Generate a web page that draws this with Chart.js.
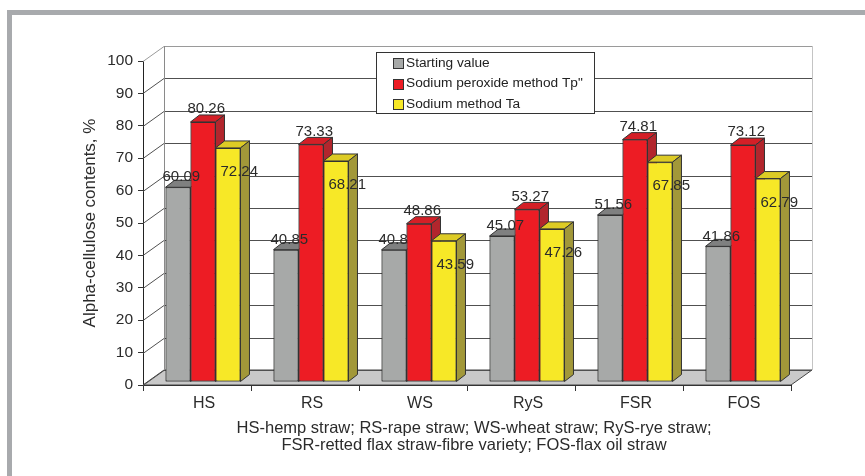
<!DOCTYPE html>
<html>
<head>
<meta charset="utf-8">
<script src="https://cdn.jsdelivr.net/npm/chart.js@4/dist/chart.umd.min.js"></script>
<style>
  body { margin: 0; background: #fff; width: 865px; height: 476px; overflow: hidden; position: relative; }
  #frame { position: absolute; left: 7px; top: 10px; width: 900px; height: 500px;
           border-top: 5px solid #a8aaad; border-left: 5px solid #a8aaad; }
  #myChart { position: absolute; left: 0; top: 0; }
</style>
</head>
<body>
<div id="frame"></div>
<canvas id="myChart" width="865" height="476"></canvas>
<script>
const categories = ['HS', 'RS', 'WS', 'RyS', 'FSR', 'FOS'];
const seriesNames = ['Starting value', 'Sodium peroxide method Tp"', 'Sodium method Ta'];
const startingValue = [60.09, 40.85, 40.8, 45.07, 51.56, 41.86];
const peroxideMethod = [80.26, 73.33, 48.86, 53.27, 74.81, 73.12];
const sodiumMethod = [72.24, 68.21, 43.59, 47.26, 67.85, 62.79];
const yTicks = [0, 10, 20, 30, 40, 50, 60, 70, 80, 90, 100];
const yTitle = 'Alpha-cellulose contents, %';
const footnote = [
    'HS-hemp straw; RS-rape straw; WS-wheat straw; RyS-rye straw;',
    'FSR-retted flax straw-fibre variety; FOS-flax oil straw'
];

Chart.defaults.font.family = "'Liberation Sans', Arial, sans-serif";
Chart.defaults.color = '#2b2b2b';

// colours: front, top, side
const faces = [
    ['#a7a9a8', '#7f8080', '#707171'],
    ['#ed1c24', '#d41f27', '#b2262d'],
    ['#f7e827', '#ddcb25', '#a29839']
];
// label offsets from the front top-left corner of each bar
const labelOff = [{ x: -3, y: -10 }, { x: -3, y: -13 }, { x: 5, y: 24 }];

const wall = { dx: 21, dy: 15 };    // depth of floor / back wall
const shift = { x: 6, y: -3 };      // bars sit a bit inside the box
const bar3d = { dx: 9, dy: 7 };     // depth of each bar

function line(ctx, pts) {
    ctx.beginPath();
    ctx.moveTo(pts[0][0], pts[0][1]);
    for (let i = 1; i < pts.length; i++) ctx.lineTo(pts[i][0], pts[i][1]);
    ctx.stroke();
}
function poly(ctx, pts, fill) {
    ctx.beginPath();
    ctx.moveTo(pts[0][0], pts[0][1]);
    for (let i = 1; i < pts.length; i++) ctx.lineTo(pts[i][0], pts[i][1]);
    ctx.closePath();
    ctx.fillStyle = fill;
    ctx.fill();
    ctx.stroke();
}

const box3d = {
    id: 'box3d',
    beforeDatasetsDraw(chart) {
        const ctx = chart.ctx;
        const a = chart.chartArea;
        const y = chart.scales.y;
        const dx = wall.dx, dy = wall.dy;
        ctx.save();
        ctx.lineWidth = 1;
        // floor
        ctx.strokeStyle = '#444';
        poly(ctx, [[a.left, a.bottom], [a.right, a.bottom], [a.right + dx, a.bottom - dy], [a.left + dx, a.bottom - dy]], '#c9c9c9');
        // right edge of back wall
        ctx.strokeStyle = '#c4c4c4';
        line(ctx, [[a.right + dx + 0.5, a.top - dy], [a.right + dx + 0.5, a.bottom - dy]]);
        // grid: diagonal on the side wall, then across the back wall
        yTicks.forEach(v => {
            const py = Math.round(y.getPixelForValue(v)) + 0.5;
            ctx.strokeStyle = v === 100 ? '#9a9a9a' : '#505050';
            line(ctx, [[a.left, py], [a.left + dx, py - dy], [a.right + dx, py - dy]]);
        });
        ctx.strokeStyle = '#8a8a8a';
        line(ctx, [[a.left + dx + 0.5, a.top - dy], [a.left + dx + 0.5, a.bottom - dy]]);
        ctx.restore();

        ctx.save();
        ctx.translate(shift.x, shift.y);
    },
    afterDatasetsDraw(chart) {
        const ctx = chart.ctx;
        // redraw the bars series by series so each one covers the side of the previous one
        ctx.save();
        ctx.lineWidth = 1;
        chart.data.datasets.forEach((ds, i) => {
            const c = faces[i];
            chart.getDatasetMeta(i).data.forEach(el => {
                el.draw(ctx);
                const l = el.x - el.width / 2, r = el.x + el.width / 2;
                const t = el.y, b = el.base;
                ctx.strokeStyle = '#333';
                ctx.lineWidth = 1;
                poly(ctx, [[l, t], [l + bar3d.dx, t - bar3d.dy], [r + bar3d.dx, t - bar3d.dy], [r, t]], c[1]);
                poly(ctx, [[r, t], [r + bar3d.dx, t - bar3d.dy], [r + bar3d.dx, b - bar3d.dy], [r, b]], c[2]);
            });
        });
        ctx.restore();
        ctx.restore();

        // value labels
        ctx.save();
        ctx.font = "15px 'Liberation Sans', Arial, sans-serif";
        ctx.fillStyle = '#2b2b2b';
        ctx.textAlign = 'left';
        ctx.textBaseline = 'middle';
        chart.data.datasets.forEach((ds, i) => {
            const meta = chart.getDatasetMeta(i);
            meta.data.forEach((el, j) => {
                const l = el.x - el.width / 2 + shift.x;
                const t = el.y + shift.y;
                ctx.fillText(String(ds.data[j]), l + labelOff[i].x, t + labelOff[i].y);
            });
        });
        ctx.restore();
    },
    afterDraw(chart) {
        const ctx = chart.ctx;
        const a = chart.chartArea;
        ctx.save();
        // legend
        ctx.fillStyle = '#fff';
        ctx.strokeStyle = '#333';
        ctx.lineWidth = 1;
        ctx.fillRect(376.5, 52.5, 218, 61);
        ctx.strokeRect(376.5, 52.5, 218, 61);
        ctx.font = "13.7px 'Liberation Sans', Arial, sans-serif";
        ctx.textBaseline = 'middle';
        ctx.textAlign = 'left';
        chart.data.datasets.forEach((ds, i) => {
            const cy = 63 + i * 20.7;
            ctx.fillStyle = ds.backgroundColor;
            ctx.fillRect(393.5, Math.round(cy - 5) + 0.5, 10, 10);
            ctx.strokeRect(393.5, Math.round(cy - 5) + 0.5, 10, 10);
            ctx.fillStyle = '#222';
            ctx.fillText(ds.label, 406, cy);
        });
        // footnote under the axis
        ctx.font = "16.5px 'Liberation Sans', Arial, sans-serif";
        ctx.textAlign = 'center';
        ctx.fillStyle = '#2b2b2b';
        const cx = (a.left + a.right) / 2 + 7;
        footnote.forEach((txt, k) => ctx.fillText(txt, cx, a.bottom + 43 + k * 17.5));
        ctx.restore();
    }
};

const datasets = [startingValue, peroxideMethod, sodiumMethod].map((vals, i) => ({
    label: seriesNames[i],
    data: vals,
    backgroundColor: faces[i][0],
    borderColor: '#333',
    borderWidth: 1,
    borderSkipped: false,
    clip: false,
    barPercentage: 1.0,
    categoryPercentage: 0.694
}));

new Chart(document.getElementById('myChart'), {
    type: 'bar',
    data: { labels: categories, datasets: datasets },
    options: {
        responsive: false,
        animation: false,
        devicePixelRatio: 1,
        layout: { padding: { left: 20, right: 74, top: 61, bottom: 61 } },
        plugins: {
            legend: { display: false },
            tooltip: { enabled: false }
        },
        scales: {
            x: {
                afterFit(scale) { scale.height = 30; },
                grid: { offset: true, drawOnChartArea: false, drawTicks: true, tickLength: 6, color: '#333' },
                border: { display: true, color: '#222' },
                ticks: { font: { size: 16 }, padding: 3, labelOffset: 7, color: '#2b2b2b' }
            },
            y: {
                min: 0,
                max: 100,
                afterFit(scale) { scale.width = 123; },
                afterBuildTicks(scale) { scale.ticks = yTicks.map(v => ({ value: v })); },
                grid: { drawOnChartArea: false, drawTicks: true, tickLength: 5, color: '#333' },
                border: { display: true, color: '#222' },
                ticks: { font: { size: 15.5 }, padding: 5, color: '#2b2b2b' },
                title: {
                    display: true,
                    text: yTitle,
                    font: { size: 17 },
                    padding: { top: 60, bottom: 0 },
                    color: '#2b2b2b'
                }
            }
        }
    },
    plugins: [box3d]
});
</script>
</body>
</html>
